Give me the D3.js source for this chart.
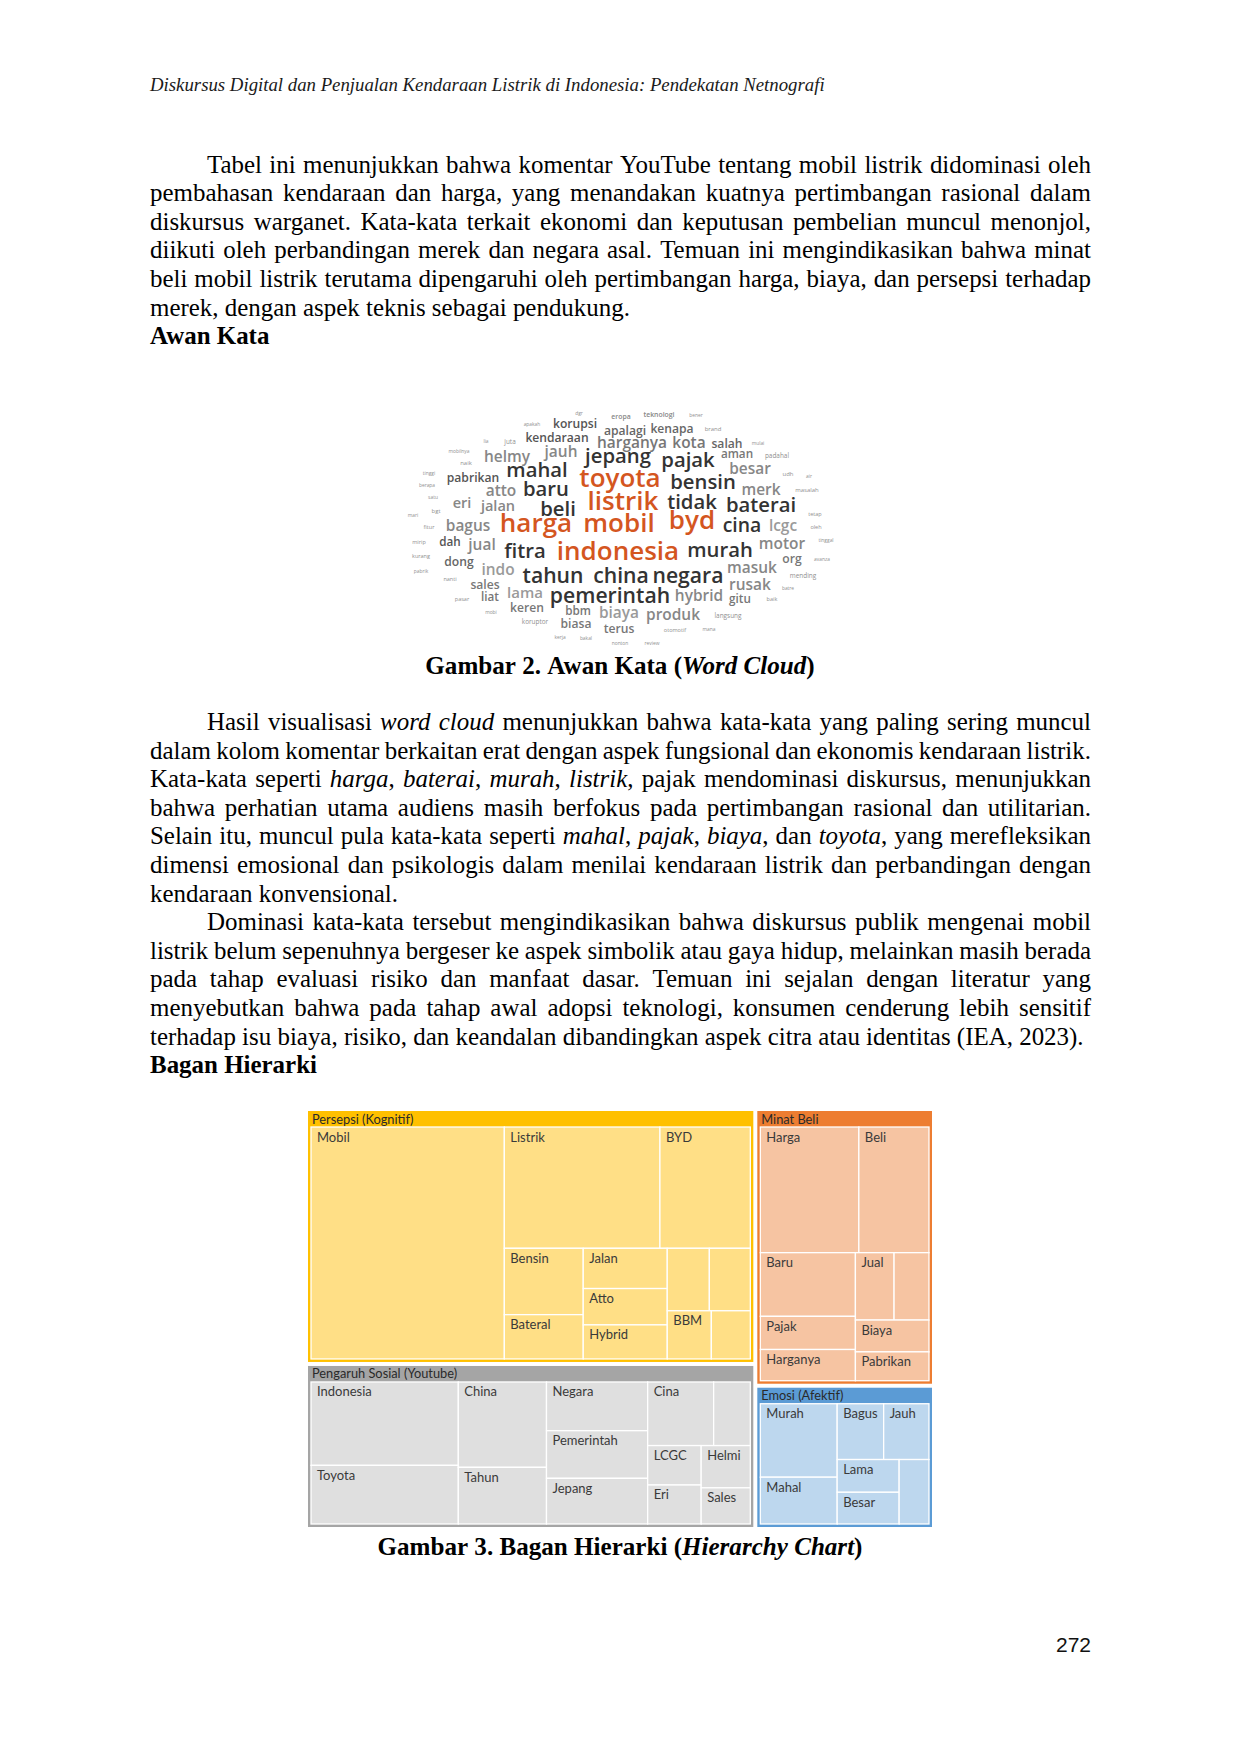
<!DOCTYPE html>
<html>
<head>
<meta charset="utf-8">
<script src="https://cdn.jsdelivr.net/npm/d3@7"></script>
<style>
  html, body { margin: 0; padding: 0; background: #ffffff; }
  svg { display: block; }
</style>
</head>
<body>
<svg id="page" width="1240" height="1754"></svg>
<script>
// ================= DATA =================
// ---- running header / body text ----
const runningHead = "Diskursus Digital dan Penjualan Kendaraan Listrik di Indonesia: Pendekatan Netnografi";
const para1 = [
  "Tabel ini menunjukkan bahwa komentar YouTube tentang mobil listrik didominasi oleh",
  "pembahasan kendaraan dan harga, yang menandakan kuatnya pertimbangan rasional dalam",
  "diskursus warganet. Kata-kata terkait ekonomi dan keputusan pembelian muncul menonjol,",
  "diikuti oleh perbandingan merek dan negara asal. Temuan ini mengindikasikan bahwa minat",
  "beli mobil listrik terutama dipengaruhi oleh pertimbangan harga, biaya, dan persepsi terhadap",
  "merek, dengan aspek teknis sebagai pendukung."
];
const heading1 = "Awan Kata";
const caption1 = "Gambar 2. Awan Kata (_Word_ _Cloud_)";
const para2 = [
  "Hasil visualisasi _word_ _cloud_ menunjukkan bahwa kata-kata yang paling sering muncul",
  "dalam kolom komentar berkaitan erat dengan aspek fungsional dan ekonomis kendaraan listrik.",
  "Kata-kata seperti _harga_, _baterai_, _murah_, _listrik_, pajak mendominasi diskursus, menunjukkan",
  "bahwa perhatian utama audiens masih berfokus pada pertimbangan rasional dan utilitarian.",
  "Selain itu, muncul pula kata-kata seperti _mahal_, _pajak_, _biaya_, dan _toyota_, yang merefleksikan",
  "dimensi emosional dan psikologis dalam menilai kendaraan listrik dan perbandingan dengan",
  "kendaraan konvensional."
];
const para3 = [
  "Dominasi kata-kata tersebut mengindikasikan bahwa diskursus publik mengenai mobil",
  "listrik belum sepenuhnya bergeser ke aspek simbolik atau gaya hidup, melainkan masih berada",
  "pada tahap evaluasi risiko dan manfaat dasar. Temuan ini sejalan dengan literatur yang",
  "menyebutkan bahwa pada tahap awal adopsi teknologi, konsumen cenderung lebih sensitif",
  "terhadap isu biaya, risiko, dan keandalan dibandingkan aspek citra atau identitas (IEA, 2023)."
];
const heading2 = "Bagan Hierarki";
const caption2 = "Gambar 3. Bagan Hierarki (_Hierarchy_ _Chart_)";
const pageNumber = "272";

// ---- word cloud: words, frequency, colour class ----
const cloudWords = [
  "dgr","eropa","teknologi","bener","apakah","korupsi","apalagi","kenapa","brand","lia",
  "juta","kendaraan","harganya","kota","salah","mulai","mobilnya","helmy","jauh","jepang",
  "pajak","aman","padahal","naik","mahal","besar","udh","air","tinggi","pabrikan",
  "toyota","bensin","berapa","atto","baru","merk","masalah","satu","eri","jalan",
  "listrik","tidak","beli","baterai","bgt","mari","tetap","fitur","bagus","harga",
  "mobil","byd","cina","lcgc","oleh","mirip","dah","jual","fitra","indonesia",
  "murah","motor","tinggal","kurang","dong","org","avanza","indo","masuk","pabrik",
  "nanti","tahun","china","negara","mending","sales","rusak","batre","lama","pemerintah",
  "hybrid","liat","gitu","baik","pasar","keren","mobi","bbm","biaya","produk",
  "langsung","koruptor","biasa","terus","otomotif","mana","kerja","bakal","nonton","review"
];
const cloudFreq = [
  4,13,13,4,4,37,37,37,9,4,
  11,37,52,52,37,4,4,52,52,74,
  74,35,11,9,74,52,9,4,4,37,
  100,74,4,52,74,52,9,4,48,48,
  100,74,74,74,9,4,7,7,52,100,
  100,100,70,52,7,7,35,52,74,100,
  74,52,4,7,37,37,4,52,52,4,
  7,78,78,78,11,37,52,4,50,78,
  52,35,35,7,7,37,4,35,52,52,
  11,11,37,37,7,4,4,4,4,4
];
const cloudClass = [
  "s","g4","g4","s","s","g1","g2","g2","s","s",
  "s","g1","g3","g3","g2","s","s","g4","g4","d",
  "d","g3","s","s","d","g4","s","s","s","g1",
  "o","d","s","g4","d","g4","s","s","g4","g4",
  "o","d","d","d","s","s","s","s","g4","o",
  "o","o","d","g5","s","s","g1","g4","d","o",
  "d","g4","s","s","g2","g3","s","g5","g4","s",
  "s","d","d","d","s","g3","g4","s","g5","d",
  "g4","g3","g3","s","s","g3","s","g3","g5","g4",
  "s","s","g3","g3","s","s","s","s","s","s"
];
// placement produced by the cloud layout (offsets from the cloud centre, cloud units)
const cloudLayout = [
  [-41,-113],[1,-110],[39,-112],[76,-111],[-88,-102],[-45,-102],[5,-95],[52,-97],[93,-98],[-134,-85],
  [-110,-85],[-63,-88],[12,-83],[69,-83],[107,-82],[138,-83],[-161,-75],[-113,-69],[-59,-74],[-2,-69],
  [68,-65],[117,-72],[157,-71],[-154,-64],[-83,-55],[130,-57],[168,-53],[189,-50],[-191,-53],[-147,-48],
  [0,-47],[83,-43],[-193,-41],[-119,-35],[-74,-36],[141,-36],[187,-37],[-187,-29],[-158,-23],[-122,-20],
  [3,-24],[72,-23],[-62,-16],[141,-20],[-184,-16],[-207,-11],[195,-12],[-191,1],[-152,0],[-84,-2],
  [-1,-2],[72,-5],[122,0],[163,0],[196,1],[-201,16],[-170,16],[-138,19],[-95,26],[-2,26],
  [100,25],[162,18],[206,14],[-199,30],[-161,36],[172,33],[202,33],[-122,44],[132,42],[-199,45],
  [-170,53],[-67,50],[1,50],[68,50],[183,49],[-135,59],[130,59],[168,62],[-95,67],[-10,70],
  [79,70],[-130,71],[120,73],[152,73],[-158,73],[-93,82],[-129,86],[-42,85],[-1,87],[53,89],
  [108,89],[-85,95],[-44,98],[-1,103],[55,104],[89,103],[-60,111],[-34,112],[0,117],[32,117]
];

// ---- hierarchy chart ----
const treeGroups = ["Persepsi (Kognitif)", "Pengaruh Sosial (Youtube)", "Minat Beli", "Emosi (Afektif)"];
const persepsiNames  = ["Mobil","Listrik","BYD","Bensin","Bateral","Jalan","Atto","Hybrid","","","BBM",""];
const persepsiValues = [191.0, 80.4, 46.7, 22.3, 14.9, 14.4, 13.0, 12.2, 11.2, 10.9, 9.05, 8.0];
const pengaruhNames  = ["Indonesia","Toyota","China","Tahun","Negara","Pemerintah","Jepang","Cina","","LCGC","Eri","Helmi","Sales"];
const pengaruhValues = [55.3, 38.9, 33.9, 22.5, 22.2, 21.7, 20.8, 18.9, 10.5, 9.5, 9.4, 9.35, 8.0];
const minatNames     = ["Harga","Beli","Baru","Pajak","Harganya","Jual","","Biaya","Pabrikan"];
const minatValues    = [54.2, 38.6, 26.5, 13.8, 13.0, 11.4, 10.3, 10.25, 9.3];
const emosiNames     = ["Murah","Mahal","Bagus","Jauh","Lama","Besar",""];
const emosiValues    = [27.0, 17.2, 12.4, 12.1, 9.7, 9.4, 9.2];

// ================= DRAWING =================
const svg = d3.select("#page");
const SERIF = "'Liberation Serif','Times New Roman',serif";
const meas = svg.append("text").attr("visibility", "hidden").attr("x", -1000).attr("y", -1000);

function parseToken(tok) {
  return tok.split("_").map((t, i) => ({ t, it: i % 2 === 1 })).filter(s => s.t.length);
}
function widthOf(segs, o) {
  meas.selectAll("*").remove();
  meas.attr("font-family", o.family).attr("font-size", o.size).attr("font-weight", o.weight || "normal");
  segs.forEach(s => meas.append("tspan").attr("font-style", (s.it !== !!o.italic) ? "italic" : "normal").text(s.t));
  return meas.node().getComputedTextLength();
}
function spaceOf(o) {
  return widthOf([{ t: "a a" }], o) - widthOf([{ t: "aa" }], o);
}
function drawLine(str, x0, x1, y, o) {
  const toks = str.split(" ").map(parseToken);
  const widths = toks.map(t => widthOf(t, o));
  const total = d3.sum(widths);
  let gap;
  if (o.justify && toks.length > 1) gap = (x1 - x0 - total) / (toks.length - 1);
  else gap = spaceOf(o);
  let x = x0;
  if (o.center !== undefined) x = o.center - (total + gap * (toks.length - 1)) / 2;
  toks.forEach((t, i) => {
    const te = svg.append("text").attr("x", x).attr("y", y)
      .attr("font-family", o.family).attr("font-size", o.size)
      .attr("font-weight", o.weight || "normal").attr("fill", o.fill || "#000");
    t.forEach(s => te.append("tspan").attr("font-style", (s.it !== !!o.italic) ? "italic" : "normal").text(s.t));
    x += widths[i] + gap;
  });
}
function naturalWidth(str, o) {
  const toks = str.split(" ").map(parseToken);
  return d3.sum(toks, t => widthOf(t, o)) + (toks.length - 1) * spaceOf(o);
}

function draw() {
  const LEFT = 150, RIGHT = 1091, INDENT = 57, LH = 28.6;

  // font sizes fitted to the page's measured line widths
  const bodySize = 100 * 480 / naturalWidth(para1[5], { family: SERIF, size: 100 });
  const headSize = 100 * 675 / naturalWidth(runningHead, { family: SERIF, size: 100, italic: true });
  const capSize = 100 * 485 / naturalWidth(caption2, { family: SERIF, size: 100, weight: "bold" });

  const body = { family: SERIF, size: bodySize };

  // running head
  drawLine(runningHead, LEFT, RIGHT, 91, { family: SERIF, size: headSize, italic: true, fill: "#1a1a1a" });

  // paragraph 1
  para1.forEach((l, i) => {
    const last = i === para1.length - 1;
    drawLine(l, LEFT + (i === 0 ? INDENT : 0), RIGHT, 172.5 + i * LH, Object.assign({ justify: !last }, body));
  });
  drawLine(heading1, LEFT, RIGHT, 172.5 + 6 * LH, Object.assign({ weight: "bold" }, body));

  // word cloud
  const cx = d3.scaleLinear().domain([-220, 220]).range([400, 840]);
  const cy = d3.scaleLinear().domain([-120, 120]).range([407, 647]);
  const fsize = d3.scaleLinear().domain([0, 100]).range([4, 26]);
  const tone = d3.scaleOrdinal()
    .domain(["o", "d", "g1", "g2", "g3", "g4", "g5", "s"])
    .range(["#d4561f", "#333333", "#555555", "#666666", "#777777", "#878787", "#9a9a9a", "#8f8f8f"]);
  const cloud = svg.append("g").attr("class", "cloud");
  cloud.selectAll("text").data(cloudWords).join("text")
    .attr("x", (d, i) => cx(cloudLayout[i][0]))
    .attr("y", (d, i) => cy(cloudLayout[i][1]))
    .attr("text-anchor", "middle")
    .attr("dominant-baseline", "middle")
    .attr("font-family", "'Open Sans','Noto Sans',sans-serif")
    .attr("font-weight", (d, i) => cloudClass[i] === "s" ? 400 : 600)
    .attr("font-size", (d, i) => fsize(cloudFreq[i]))
    .attr("fill", (d, i) => tone(cloudClass[i]))
    .text(d => d);

  drawLine(caption1, LEFT, RIGHT, 674, { family: SERIF, size: capSize, weight: "bold", center: 620 });

  // paragraph 2 & 3
  para2.forEach((l, i) => {
    const last = i === para2.length - 1;
    drawLine(l, LEFT + (i === 0 ? INDENT : 0), RIGHT, 730 + i * LH, Object.assign({ justify: !last }, body));
  });
  para3.forEach((l, i) => {
    const last = i === para3.length - 1;
    drawLine(l, LEFT + (i === 0 ? INDENT : 0), RIGHT, 730 + (i + 7) * LH, Object.assign({ justify: !last }, body));
  });
  drawLine(heading2, LEFT, RIGHT, 730 + 12 * LH, Object.assign({ weight: "bold" }, body));

  // ---- hierarchy chart (treemap) ----
  const groupsData = [
    { name: treeGroups[0], names: persepsiNames, values: persepsiValues },
    { name: treeGroups[1], names: pengaruhNames, values: pengaruhValues },
    { name: treeGroups[2], names: minatNames, values: minatValues },
    { name: treeGroups[3], names: emosiNames, values: emosiValues }
  ];
  const treeData = {
    name: "root",
    children: groupsData.map(g => ({
      name: g.name,
      children: g.names.map((n, i) => ({ name: n, value: g.values[i] }))
    }))
  };
  const frameColor = d3.scaleOrdinal().domain(treeGroups).range(["#FFC000", "#A5A5A5", "#ED7D31", "#5B9BD5"]);
  const cellColor = d3.scaleOrdinal().domain(treeGroups).range(["#FFDF86", "#DFDFDF", "#F6C4A2", "#BDD7EE"]);

  const PHI = (1 + Math.sqrt(5)) / 2;
  // squarified rows (golden aspect target); near-square areas are split in rows across the width
  function tileRows(parent, x0, y0, x1, y1) {
    const nodes = parent.children, n = nodes.length;
    let value = parent.value, i0 = 0;
    while (i0 < n) {
      const dx = x1 - x0, dy = y1 - y0;
      const dice = dx < dy * 1.08;
      const side = dice ? dx : dy, other = dice ? dy : dx;
      let i1 = i0, sum = 0, best = Infinity;
      while (i1 < n) {
        const s = sum + nodes[i1].value;
        const t = other * s / value;
        let worst = 0;
        for (let k = i0; k <= i1; k++) {
          const l = side * nodes[k].value / s;
          worst = Math.max(worst, PHI * l / t, t / (PHI * l));
        }
        if (worst > best) break;
        best = worst; sum = s; i1++;
      }
      const row = { value: sum, children: nodes.slice(i0, i1) };
      if (dice) {
        const yy = (i1 >= n) ? y1 : y0 + dy * sum / value;
        d3.treemapDice(row, x0, y0, x1, yy); y0 = yy;
      } else {
        const xx = (i1 >= n) ? x1 : x0 + dx * sum / value;
        d3.treemapSlice(row, x0, y0, xx, y1); x0 = xx;
      }
      value -= sum; i0 = i1;
    }
  }

  const root = d3.hierarchy(treeData).sum(d => d.value || 0).sort((a, b) => b.value - a.value);
  d3.treemap().size([624, 416]).tile(tileRows)
    .paddingInner(d => d.depth === 0 ? 4 : 0)
    .paddingTop(d => d.depth === 1 ? 16 : 0)
    .paddingLeft(d => d.depth === 1 ? 3 : 0)
    .paddingRight(d => d.depth === 1 ? 3 : 0)
    .paddingBottom(d => d.depth === 1 ? 3 : 0)(root);

  const tm = svg.append("g").attr("transform", "translate(308,1111)");
  const LATO = "Lato,'Noto Sans',sans-serif";
  const groups = tm.selectAll("g.grp").data(root.children).join("g").attr("class", "grp");
  groups.append("rect")
    .attr("x", d => d.x0).attr("y", d => d.y0)
    .attr("width", d => d.x1 - d.x0).attr("height", d => d.y1 - d.y0)
    .attr("fill", d => frameColor(d.data.name));
  groups.append("text")
    .attr("x", d => d.x0 + 4).attr("y", d => d.y0 + 12.5)
    .attr("font-family", LATO).attr("font-size", 12.8).attr("fill", "#2a2a2a")
    .text(d => d.data.name);

  const leaves = tm.selectAll("g.leaf").data(root.leaves()).join("g").attr("class", "leaf");
  leaves.append("rect")
    .attr("x", d => d.x0).attr("y", d => d.y0)
    .attr("width", d => d.x1 - d.x0).attr("height", d => d.y1 - d.y0)
    .attr("fill", d => cellColor(d.parent.data.name))
    .attr("stroke", "#ffffff").attr("stroke-width", 1.3);
  leaves.filter(d => d.data.name).append("text")
    .attr("x", d => d.x0 + 6).attr("y", d => d.y0 + 14.5)
    .attr("font-family", LATO).attr("font-size", 13).attr("fill", "#3a3a3a")
    .text(d => d.data.name);

  drawLine(caption2, LEFT, RIGHT, 1555, { family: SERIF, size: capSize, weight: "bold", center: 620 });

  // page number
  svg.append("text").attr("x", 1091).attr("y", 1652).attr("text-anchor", "end")
    .attr("font-family", "'Liberation Sans',Arial,sans-serif").attr("font-size", 21).attr("fill", "#111")
    .text(pageNumber);
}

(document.fonts && document.fonts.ready ? document.fonts.ready : Promise.resolve()).then(draw);
</script>
</body>
</html>
